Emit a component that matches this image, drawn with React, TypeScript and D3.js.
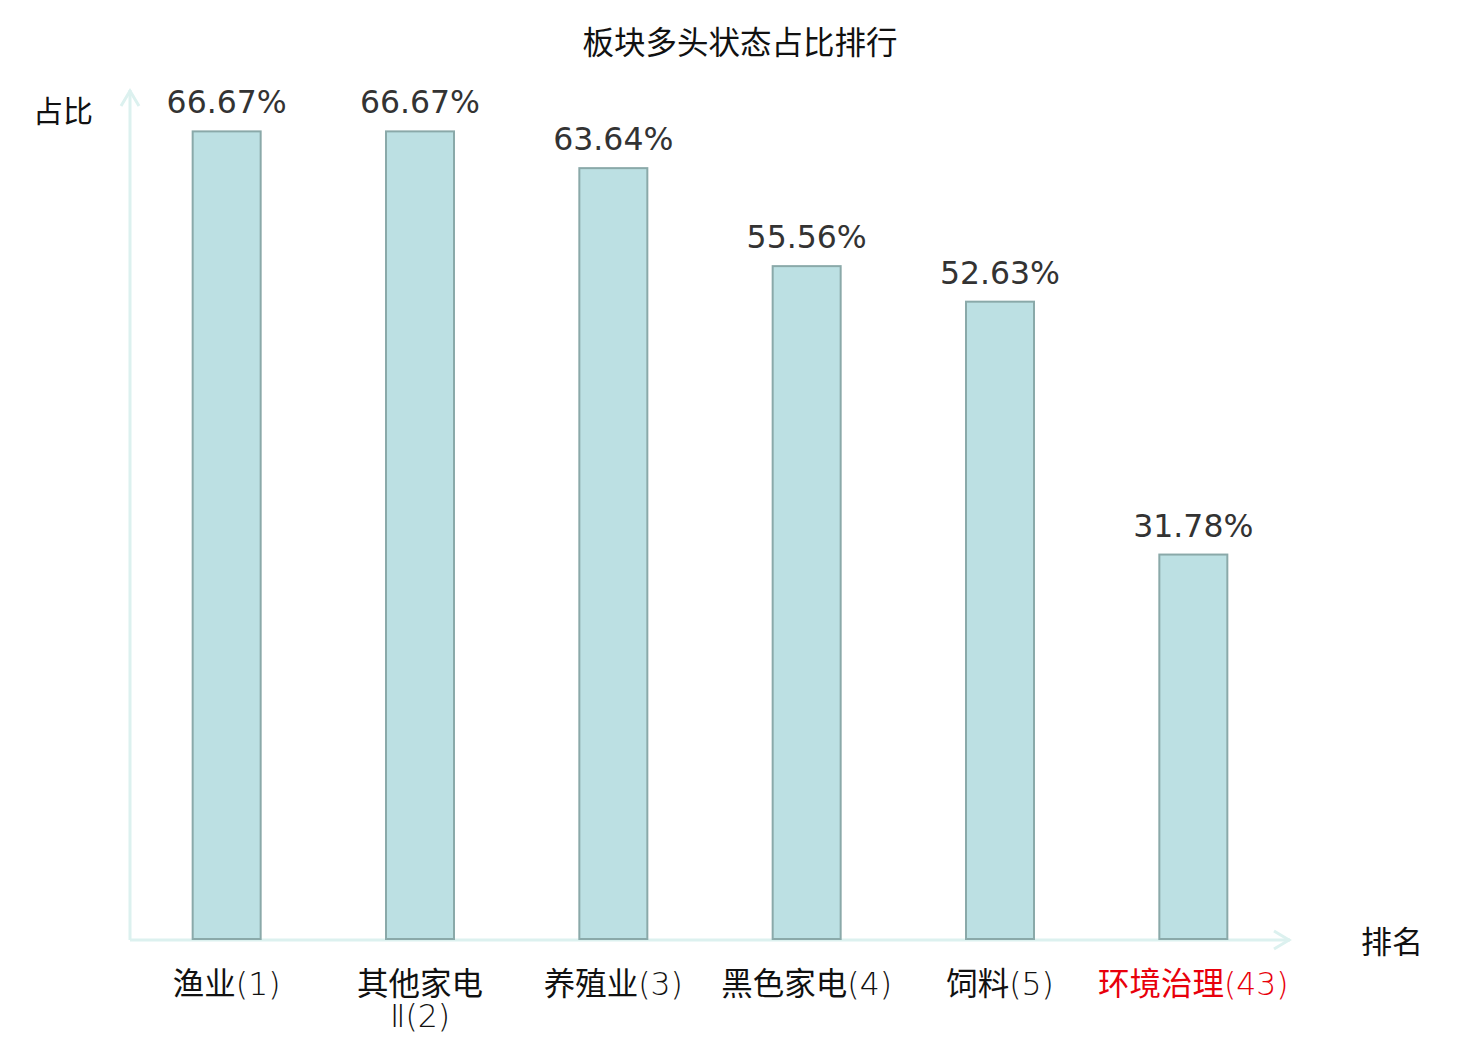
import React, { useEffect, useRef } from 'react';
import * as d3 from 'd3';

const categories = ['渔业(1)', '其他家电Ⅱ(2)', '养殖业(3)', '黑色家电(4)', '饲料(5)', '环境治理(43)'];
const values = [66.67, 66.67, 63.64, 55.56, 52.63, 31.78];
const highlighted = ['环境治理(43)'];
// manual line breaks for long labels
const labelLines: Record<string, string[]> = {
  '其他家电Ⅱ(2)': ['其他家电', 'Ⅱ(2)'],
};

const W = 1480;
const H = 1040;
const CJK = '"Noto Sans CJK SC", "Noto Sans", sans-serif';
const LATIN = '"DejaVu Sans", sans-serif';

// split a label into runs of CJK / non-CJK characters
const splitRuns = (s: string) => {
  const runs: { t: string; cjk: boolean }[] = [];
  for (const ch of s) {
    const cjk = /[\u4e00-\u9fff]/.test(ch);
    const last = runs[runs.length - 1];
    if (last && last.cjk === cjk) last.t += ch;
    else runs.push({ t: ch, cjk });
  }
  return runs;
};

export default function App() {
  const ref = useRef<SVGSVGElement>(null);

  useEffect(() => {
    if (!ref.current) return;
    const svg = d3.select(ref.current);
    svg.selectAll('*').remove();

    const x0 = 130, x1 = 1290;
    const yBase = 940, yTop = 91;
    const axisColor = '#dcf1ef';

    const x = d3.scaleBand<string>().domain(categories).range([x0, x1]);
    const y = d3.scaleLinear().domain([0, 70]).range([yBase, yTop]);
    const barW = 68;

    // title
    svg.append('text')
      .text('板块多头状态占比排行')
      .attr('x', 740).attr('y', 54)
      .attr('text-anchor', 'middle')
      .attr('font-family', CJK)
      .attr('font-size', 31.5)
      .attr('fill', '#111');

    // axes
    svg.append('line')
      .attr('x1', x0).attr('y1', yBase).attr('x2', x0).attr('y2', 90)
      .attr('stroke', axisColor).attr('stroke-width', 3);
    svg.append('path')
      .attr('d', `M${x0 - 9},${106} L${x0},${91} L${x0 + 9},${106}`)
      .attr('fill', 'none').attr('stroke', axisColor).attr('stroke-width', 3);
    svg.append('line')
      .attr('x1', x0).attr('y1', yBase).attr('x2', x1).attr('y2', yBase)
      .attr('stroke', axisColor).attr('stroke-width', 3);
    svg.append('path')
      .attr('d', `M${x1 - 16},${yBase - 9} L${x1 - 1},${yBase} L${x1 - 16},${yBase + 9}`)
      .attr('fill', 'none').attr('stroke', axisColor).attr('stroke-width', 3);

    // axis names
    svg.append('text').text('占比')
      .attr('x', 63).attr('y', 122)
      .attr('text-anchor', 'middle')
      .attr('font-family', CJK).attr('font-size', 30).attr('fill', '#111');
    svg.append('text').text('排名')
      .attr('x', 1392).attr('y', 953)
      .attr('text-anchor', 'middle')
      .attr('font-family', CJK).attr('font-size', 31).attr('fill', '#111');

    const data = categories.map((c, i) => ({ c, v: values[i] }));

    // bars
    svg.selectAll('rect.bar')
      .data(data)
      .enter()
      .append('rect')
      .attr('class', 'bar')
      .attr('x', d => (x(d.c) || 0) + x.bandwidth() / 2 - barW / 2)
      .attr('y', d => y(d.v))
      .attr('width', barW)
      .attr('height', d => yBase - y(d.v) - 1)
      .attr('fill', '#bce0e3')
      .attr('stroke', '#8aa9a9')
      .attr('stroke-width', 2);

    // value labels
    svg.selectAll('text.val')
      .data(data)
      .enter()
      .append('text')
      .attr('class', 'val')
      .text(d => d.v.toFixed(2) + '%')
      .attr('x', d => (x(d.c) || 0) + x.bandwidth() / 2)
      .attr('y', d => y(d.v) - 18)
      .attr('text-anchor', 'middle')
      .attr('font-family', LATIN)
      .attr('font-size', 31.5)
      .attr('fill', '#333');

    // category labels
    data.forEach(d => {
      const lines = labelLines[d.c] || [d.c];
      const cx = (x(d.c) || 0) + x.bandwidth() / 2;
      lines.forEach((ln, j) => {
        const t = svg.append('text')
          .attr('class', 'cat')
          .attr('x', cx)
          .attr('y', 995 + j * 32)
          .attr('text-anchor', 'middle')
          .attr('font-size', 31.5)
          .attr('fill', highlighted.includes(d.c) ? '#e8000b' : '#111');
        splitRuns(ln).forEach(r => {
          t.append('tspan')
            .attr('font-family', r.cjk ? CJK : LATIN)
            .attr('font-weight', r.cjk ? 400 : 200)
            .text(r.t);
        });
      });
    });
  }, []);

  return (
    <svg ref={ref} width={W} height={H} style={{ display: 'block', position: 'absolute', left: 0, top: 0, background: '#fff' }} />
  );
}
